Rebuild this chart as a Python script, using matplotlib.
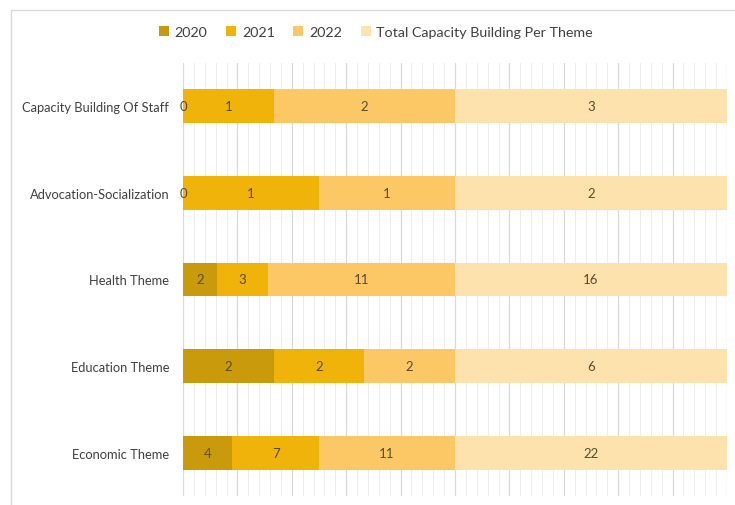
import numpy as np
import matplotlib.pyplot as plt
from matplotlib.patches import Rectangle
from matplotlib.ticker import MultipleLocator

plt.rcParams['font.family'] = ['Lato', 'DejaVu Sans']

themes = ['Economic Theme', 'Education Theme', 'Health Theme',
          'Advocation-Socialization', 'Capacity Building Of Staff']
series = ['2020', '2021', '2022', 'Total Capacity Building Per Theme']
y2020 = [4, 2, 2, 0, 0]
y2021 = [7, 2, 3, 1, 1]
y2022 = [11, 2, 11, 1, 2]
total = [22, 6, 16, 2, 3]
colors = ['#C99A0C', '#F0B30A', '#FCC865', '#FDE2AE']

counts = np.array([y2020, y2021, y2022, total], dtype=float)
shares = counts / counts.sum(axis=0)

fig = plt.figure(figsize=(7.35, 5.06), dpi=100)
ax = fig.add_axes([183 / 735, 1 - 497 / 506, 544 / 735, 433 / 506])

ypos = np.arange(len(themes))
left = np.zeros(len(themes))
for i, name in enumerate(series):
    bars = ax.barh(ypos, shares[i], left=left, height=0.39,
                   color=colors[i], label=name, zorder=2)
    ax.bar_label(bars, labels=[str(int(v)) for v in counts[i]],
                 label_type='center', fontsize=9.5, color='#5b4b2e')
    left += shares[i]

ax.set_xlim(0, 1)
ax.set_ylim(-0.5, len(themes) - 0.5)
ax.set_yticks(ypos)
ax.set_yticklabels(themes, fontsize=9.3, color='#404040')
ax.tick_params(axis='y', length=0, pad=10)
ax.tick_params(axis='x', which='both', length=0, labelbottom=False)
ax.xaxis.set_major_locator(MultipleLocator(0.1))
ax.xaxis.set_minor_locator(MultipleLocator(0.02))
ax.grid(axis='x', which='major', color='#d9d9d9', lw=0.9, zorder=0)
ax.grid(axis='x', which='minor', color='#ededed', lw=0.7, zorder=0)
for s in ax.spines.values():
    s.set_visible(False)

ax.legend(loc='center', bbox_to_anchor=(376 / 735, 1 - 33 / 506),
          bbox_transform=fig.transFigure, ncol=4, frameon=False,
          fontsize=10.3, handlelength=0.7, handleheight=0.7,
          handletextpad=0.4, columnspacing=1.3, labelcolor='#404040')

fig.patches.append(Rectangle((11 / 735, -0.1), 1.2, 1 - 11 / 506 + 0.1,
                             transform=fig.transFigure, fill=False,
                             edgecolor='#d9d9d9', lw=1))

fig.savefig('out.png', dpi=100)
